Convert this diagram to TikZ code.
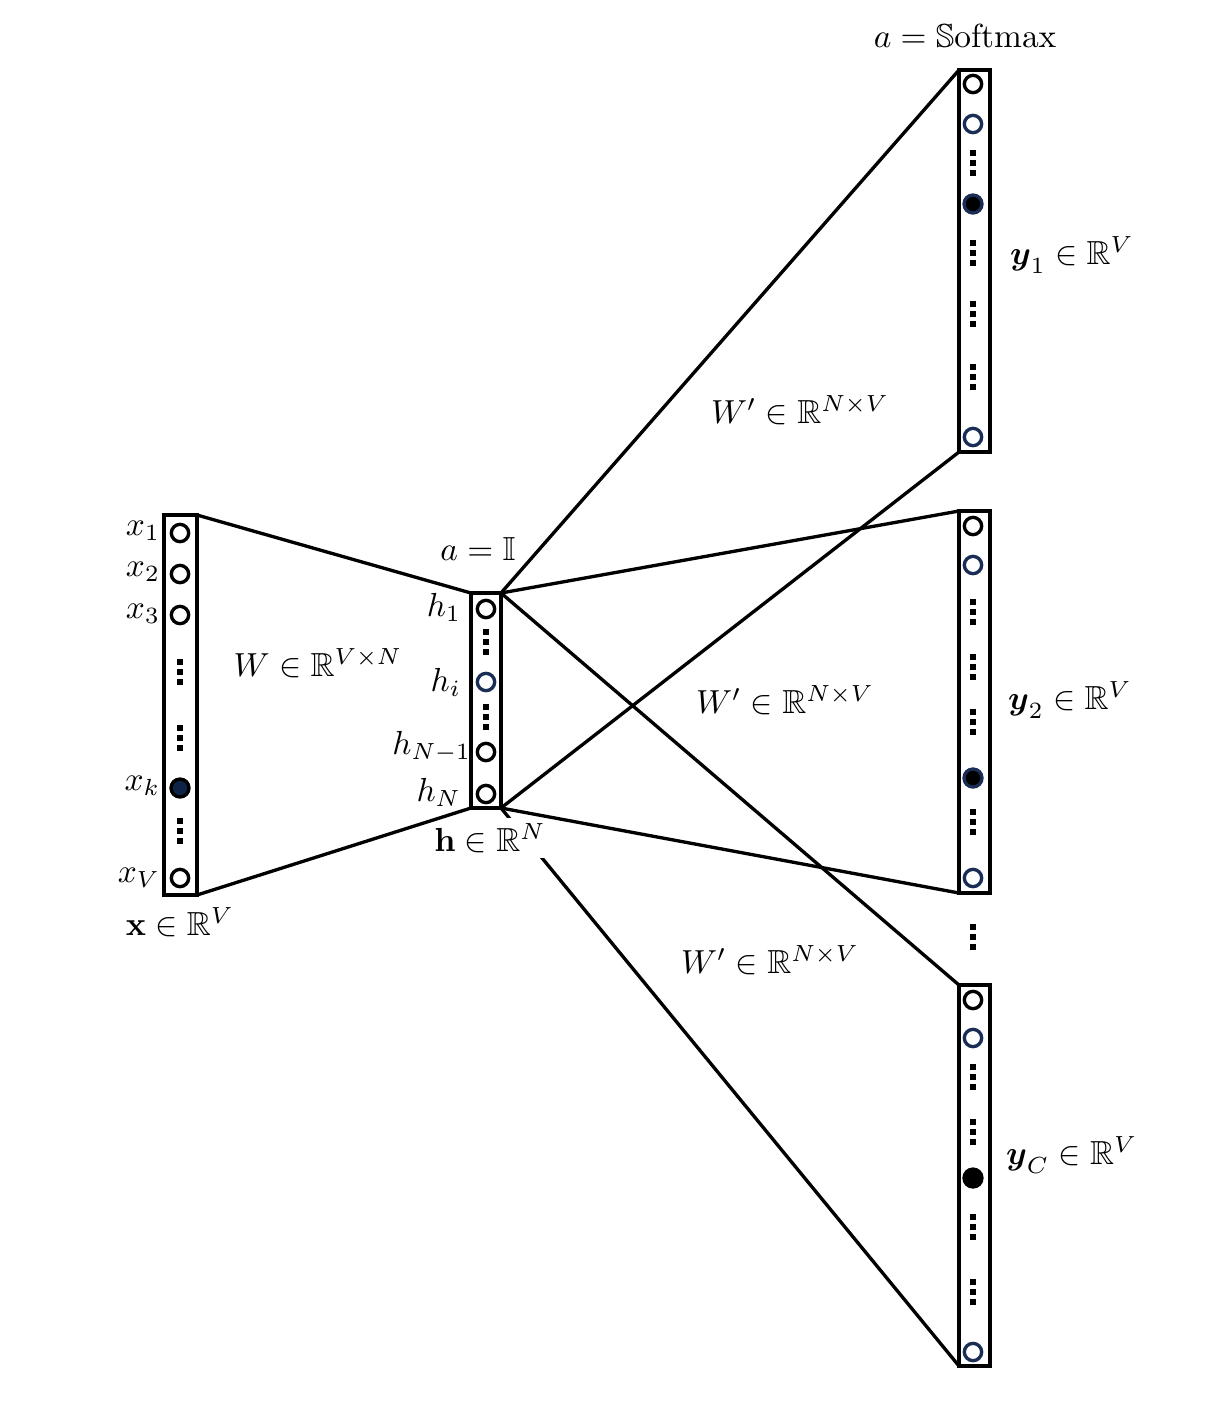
\documentclass[tikz,border=0pt]{standalone}
\usepackage{amsmath,amssymb}
\definecolor{navy}{RGB}{25,45,85}
\definecolor{navyfill}{RGB}{15,35,70}
\tikzset{
  layer/.style={draw, line width=1.1pt, inner sep=0pt, outer sep=0pt, minimum width=9.3pt},
  unit/.style={circle, draw, line width=1pt, inner sep=0pt, minimum size=5.2pt},
  bunit/.style={unit, draw=navy},
  funit/.style={circle, draw=navy, fill=black, line width=1pt, inner sep=0pt, minimum size=5.4pt},
  kunit/.style={circle, draw=black, fill=navyfill, line width=1pt, inner sep=0pt, minimum size=5.4pt},
  cunit/.style={circle, fill=black, inner sep=0pt, minimum size=6.4pt},
  conn/.style={line width=1pt},
  lbl/.style={inner sep=1pt},
}
\newcommand{\dotgroup}[2]{%
  \foreach \dd in {-10,0,10} {\fill (#1-2.6,#2+\dd-2.6) rectangle (#1+2.6,#2+\dd+2.6);}%
}
\begin{document}
\begin{tikzpicture}[x=0.3pt,y=-0.3pt]
\useasboundingbox (0,0) rectangle (1224,1416);

% layers
\node[layer, minimum width=9.9pt, minimum height=114pt] (X) at (180.5,705) {};
\node[layer, minimum width=9pt, minimum height=64.5pt] (H) at (486,700.5) {};
\node[layer, minimum height=114.6pt] (Y1) at (974.5,261) {};
\node[layer, minimum height=114.6pt] (Y2) at (974.5,702) {};
\node[layer, minimum height=114.3pt] (YC) at (974.5,1175.5) {};

% connector partly hidden by the label of h
\draw[conn] (H.south east) -- (YC.south west);
\node[fill=white, inner sep=1.5pt] (lH) at (490,838) {$\mathbf{h}\in\mathbb{R}^N$};

% connectors
\draw[conn] (X.north east) -- (H.north west);
\draw[conn] (X.south east) -- (H.south west);
\draw[conn] (H.north east) -- (Y1.north west);
\draw[conn] (H.north east) -- (Y2.north west);
\draw[conn] (H.north east) -- (YC.north west);
\draw[conn] (H.south east) -- (Y1.south west);
\draw[conn] (H.south east) -- (Y2.south west);

% input units
\node[unit] (x1) at (180,533) {};
\node[unit] (x2) at (180,574) {};
\node[unit] (x3) at (180,615) {};
\node[kunit] (xk) at (180,788) {};
\node[unit] (xV) at (180,878) {};
\dotgroup{180}{672}
\dotgroup{180}{738}
\dotgroup{180}{831}

% hidden units
\node[unit] (h1) at (486,609) {};
\node[bunit] (hi) at (486,682) {};
\node[unit] (hN1) at (486,752) {};
\node[unit] (hN) at (486,794) {};
\dotgroup{486}{642}
\dotgroup{486}{717}

% output 1
\node[unit] (a1) at (973,84) {};
\node[bunit] (a2) at (973,124) {};
\node[funit] (a3) at (973,204) {};
\node[bunit] (a4) at (973,437) {};
\dotgroup{973}{163}
\dotgroup{973}{253}
\dotgroup{973}{314}
\dotgroup{973}{377}

% output 2
\node[unit] (b1) at (973,526) {};
\node[bunit] (b2) at (973,565) {};
\node[funit] (b3) at (973,778) {};
\node[bunit] (b4) at (973,878) {};
\dotgroup{973}{612}
\dotgroup{973}{667}
\dotgroup{973}{722}
\dotgroup{973}{822}

\dotgroup{973}{937}

% output C
\node[unit] (c1) at (973,1000) {};
\node[bunit] (c2) at (973,1038) {};
\node[cunit] (c3) at (973,1178) {};
\node[bunit] (c4) at (973,1352) {};
\dotgroup{973}{1077}
\dotgroup{973}{1132}
\dotgroup{973}{1227}
\dotgroup{973}{1292}

% labels
\node[lbl, anchor=east] (lx1) at (164,531) {$x_1$};
\node[lbl, anchor=east] (lx2) at (164,572) {$x_2$};
\node[lbl, anchor=east] (lx3) at (164,614) {$x_3$};
\node[lbl, anchor=east] (lxk) at (164,786) {$x_k$};
\node[lbl, anchor=east] (lxV) at (164,878) {$x_V$};

\node[lbl, anchor=east] (lh1) at (465,607) {$h_1$};
\node[lbl, anchor=east] (lhi) at (465,682) {$h_i$};
\node[lbl, anchor=east] (lhN1) at (475,747) {$h_{N-1}$};
\node[lbl, anchor=east] (lhN) at (465,792) {$h_N$};

\node[lbl] (lX) at (180,922) {$\mathbf{x}\in\mathbb{R}^V$};
\node[lbl] (aI) at (478,549) {$a=\mathbb{I}$};
\node[lbl] (aS) at (965,36) {$a=\mathbb{S}\mathrm{oftmax}$};

\node[lbl] (W) at (318,663) {$W\in\mathbb{R}^{V\times N}$};
\node[lbl] (W1) at (800,410) {$W'\in\mathbb{R}^{N\times V}$};
\node[lbl] (W2) at (785,700) {$W'\in\mathbb{R}^{N\times V}$};
\node[lbl] (W3) at (770,960) {$W'\in\mathbb{R}^{N\times V}$};

\node[lbl, anchor=west] (ly1) at (1006,255) {$\boldsymbol{y}_1\in\mathbb{R}^V$};
\node[lbl, anchor=west] (ly2) at (1004,700) {$\boldsymbol{y}_2\in\mathbb{R}^V$};
\node[lbl, anchor=west] (lyC) at (1002,1155) {$\boldsymbol{y}_C\in\mathbb{R}^V$};
\end{tikzpicture}
\end{document}
